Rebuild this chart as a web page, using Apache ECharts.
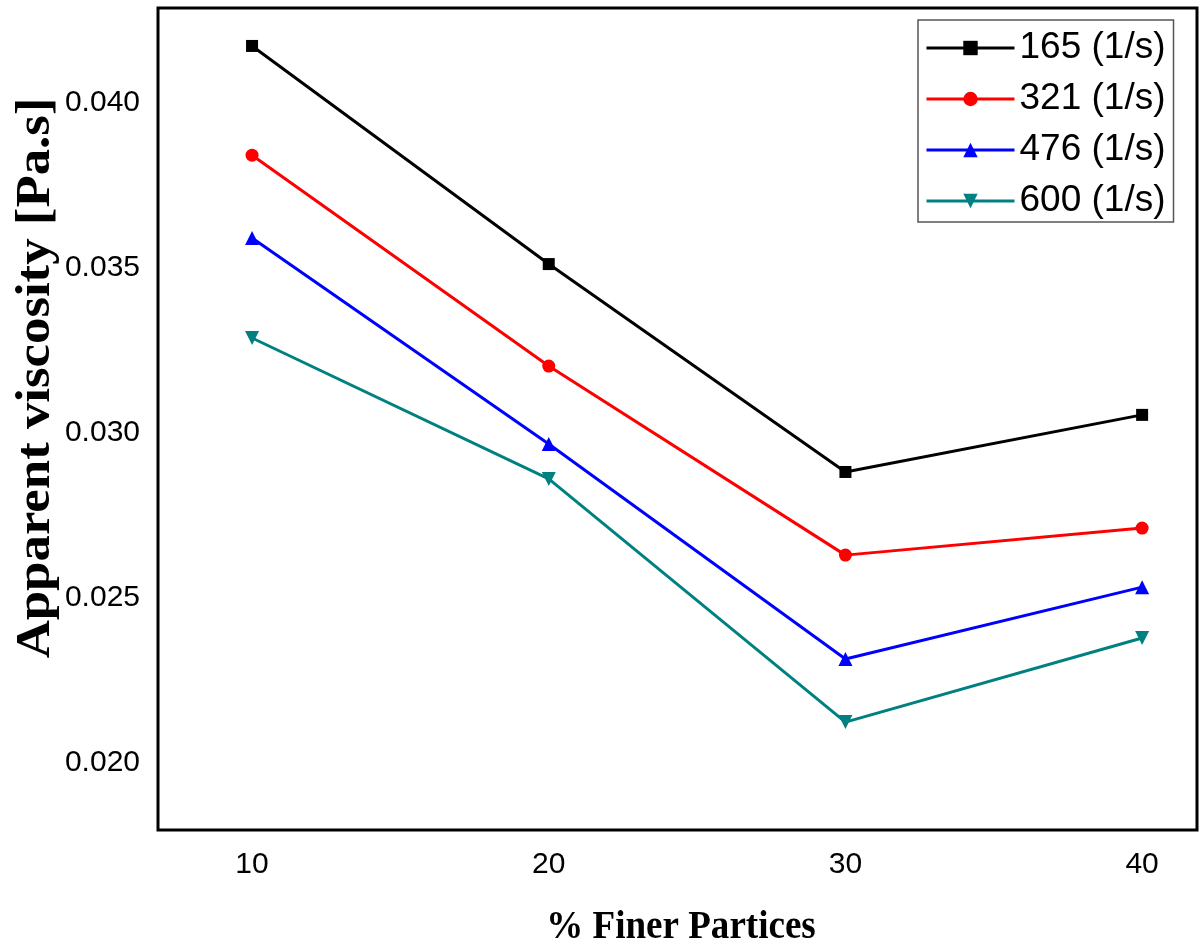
<!DOCTYPE html>
<html><head><meta charset="utf-8">
<script src="https://cdn.jsdelivr.net/npm/echarts@6/dist/echarts.min.js"></script>
<style>html,body{margin:0;padding:0;background:#fff}#c{width:1199px;height:947px}</style>
</head><body><div id="c"></div>
<script>
const xValues = [10, 20, 30, 40];
const s165 = [0.04173, 0.03512, 0.02882, 0.03055];
const s321 = [0.03842, 0.03203, 0.02630, 0.02712];
const s476 = [0.03591, 0.02967, 0.02315, 0.02533];
const s600 = [0.03288, 0.02861, 0.02124, 0.02379];
const seriesNames = ['165 (1/s)', '321 (1/s)', '476 (1/s)', '600 (1/s)'];
const xTicks = [10, 20, 30, 40];
const yTicks = [0.020, 0.025, 0.030, 0.035, 0.040];

const colors = ['#000000', '#ff0000', '#0000ff', '#008080'];
const symbols = ['rect', 'circle', 'triangle', 'path://M0,0 L10,0 L5,10 Z'];
const sizes = [12, 13, 14, 14];
const allData = [s165, s321, s476, s600];

const chart = echarts.init(document.getElementById('c'));
chart.setOption({
  animation: false,
  grid: {left: 158, right: 2, top: 8, bottom: 117, show: true, borderColor: '#000', borderWidth: 3, backgroundColor: 'transparent'},
  xAxis: {
    type: 'value', min: 6.83, max: 41.85,
    axisLine: {show: false}, axisTick: {show: false}, splitLine: {show: false},
    axisLabel: {customValues: xTicks, fontFamily: 'Liberation Sans', fontSize: 30, color: '#000', margin: 20}
  },
  yAxis: {
    type: 'value', min: 0.01797, max: 0.04288,
    axisLine: {show: false}, axisTick: {show: false}, splitLine: {show: false},
    axisLabel: {customValues: yTicks, fontFamily: 'Liberation Sans', fontSize: 30, color: '#000', margin: 18,
      formatter: v => v.toFixed(3)}
  },
  legend: {
    orient: 'vertical', left: 918, top: 20, padding: [8, 8, 1, 7],
    borderColor: '#555', borderWidth: 1.5, backgroundColor: '#fff',
    itemWidth: 88, itemHeight: 18, itemGap: 11,
    lineStyle: {width: 3},
    textStyle: {fontFamily: 'Liberation Sans', fontSize: 37, color: '#000', lineHeight: 40},
    data: seriesNames
  },
  graphic: [
    {type: 'text', x: 37, y: 378, rotation: Math.PI / 2, scaleX: 1.1, style: {text: 'Apparent viscosity [Pa.s]', font: 'bold 48px "Liberation Serif"', fill: '#000', textAlign: 'center', textVerticalAlign: 'middle'}},
    {type: 'text', x: 681, y: 928, scaleX: 0.95, style: {text: '% Finer Partices', font: 'bold 39px "Liberation Serif"', fill: '#000', textAlign: 'center', textVerticalAlign: 'middle'}}
  ],
  series: allData.map((d, i) => ({
    name: seriesNames[i], type: 'line',
    data: xValues.map((x, j) => [x, d[j]]),
    symbol: symbols[i], symbolSize: sizes[i], showAllSymbol: true,
    lineStyle: {color: colors[i], width: 3},
    itemStyle: {color: colors[i], borderWidth: 0}
  }))
});
</script></body></html>
